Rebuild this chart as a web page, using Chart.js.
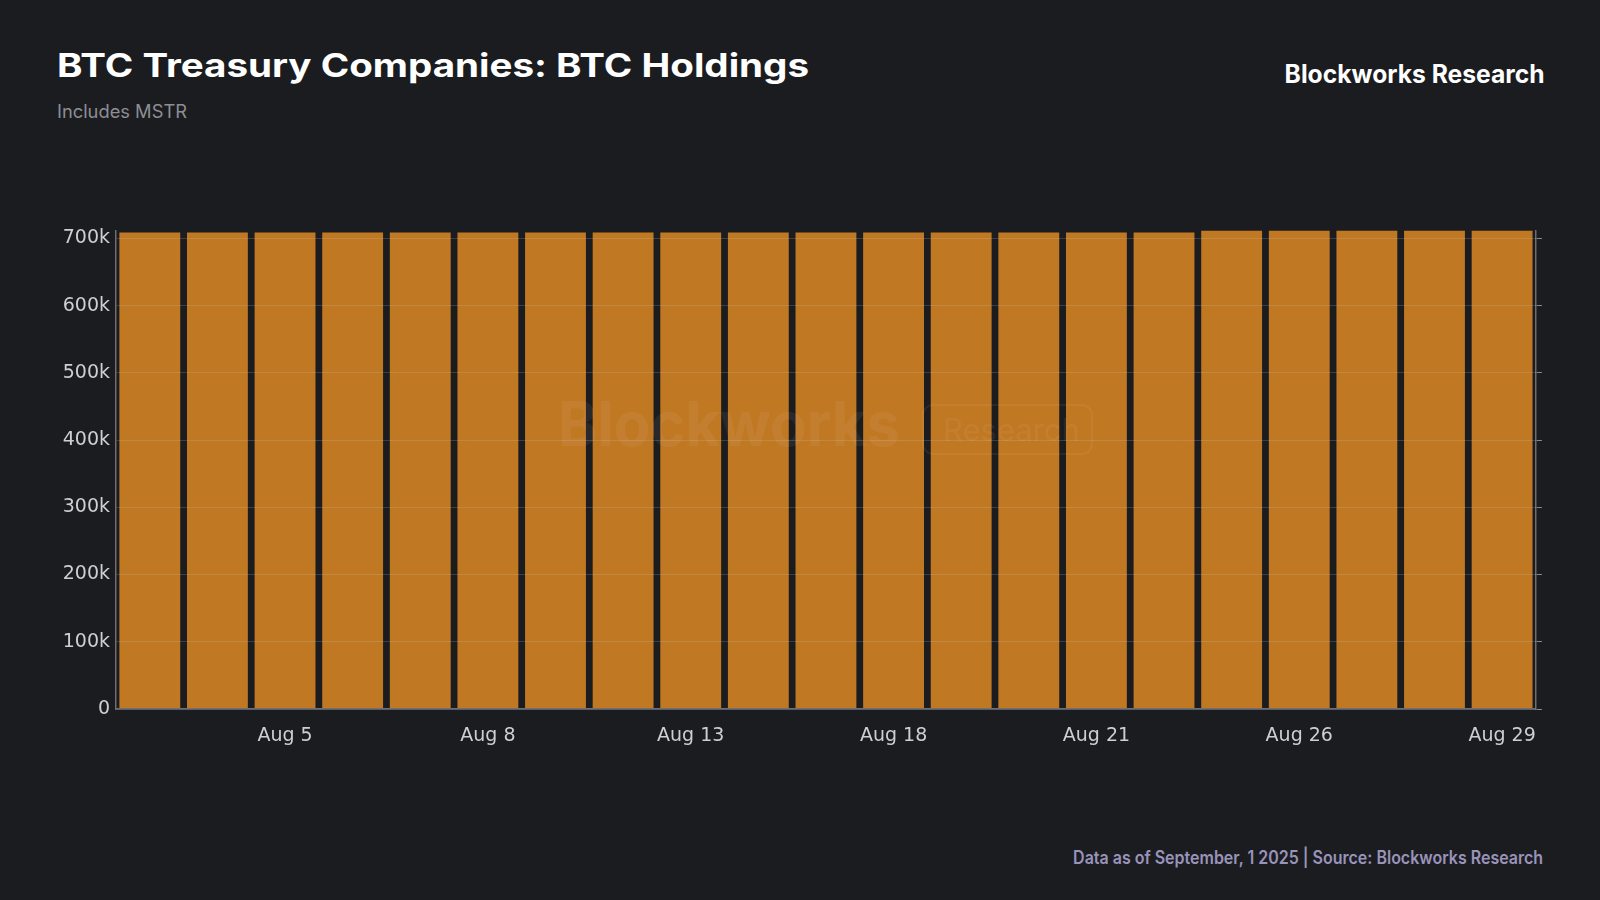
<!DOCTYPE html>
<html>
<head>
<meta charset="utf-8">
<script src="https://cdn.jsdelivr.net/npm/chart.js@4.4.1/dist/chart.umd.min.js"></script>
<style>
    html, body {
        margin: 0;
        padding: 0;
        width: 1600px;
        height: 900px;
        background: #1b1c20;
        overflow: hidden;
        font-family: Inter, 'Noto Sans', sans-serif;
    }
    .txt {
        position: absolute;
        white-space: nowrap;
        line-height: 1;
    }
    #title { left: 57px; top: 50px; font-size: 32px; font-weight: 700; color: #ffffff; transform-origin: left top; }
    #subtitle { left: 57px; top: 103px; font-size: 18px; font-weight: 400; color: #8e8e93; transform-origin: left top; }
    #brand { right: 55px; top: 62px; font-size: 25px; font-weight: 700; color: #ffffff; transform-origin: right top; }
    #footer { right: 57px; top: 849px; font-size: 18px; font-weight: 600; color: #9a93b9; transform-origin: right top; }
    #chart-wrap {
        position: absolute;
        left: 49px;
        top: 213px;
        width: 1503px;
        height: 546px;
    }
</style>
</head>
<body>
<div id="title" class="txt" data-w="752">BTC Treasury Companies: BTC Holdings</div>
<div id="subtitle" class="txt" data-w="130">Includes MSTR</div>
<div id="brand" class="txt" data-w="260">Blockworks Research</div>
<div id="footer" class="txt" data-w="470">Data as of September, 1 2025 | Source: Blockworks Research</div>
<div id="chart-wrap"><canvas id="holdings-chart"></canvas></div>

<script>
// Trading days of August 2025
const dates = [
    'Aug 1', 'Aug 4', 'Aug 5', 'Aug 6', 'Aug 7', 'Aug 8', 'Aug 11',
    'Aug 12', 'Aug 13', 'Aug 14', 'Aug 15', 'Aug 18', 'Aug 19', 'Aug 20',
    'Aug 21', 'Aug 22', 'Aug 25', 'Aug 26', 'Aug 27', 'Aug 28', 'Aug 29'
];

// BTC held
const btcHoldings = [
    709000, 709000, 709000, 709000, 709000, 709000, 709000,
    709000, 709000, 709000, 709000, 709000, 709000, 709000,
    709000, 709000, 712000, 712000, 712000, 712000, 712000
];

// Dates that get an axis label
const shownTicks = ['Aug 5', 'Aug 8', 'Aug 13', 'Aug 18', 'Aug 21', 'Aug 26', 'Aug 29'];

// y axis ticks
const yTicks = [0, 100000, 200000, 300000, 400000, 500000, 600000, 700000];
const yMax = 712000;

// stretch the header/footer texts to the widths seen in the picture
document.querySelectorAll('.txt').forEach(el => {
    const target = Number(el.dataset.w);
    const w = el.getBoundingClientRect().width;
    el.style.transform = `scaleX(${target / w})`;
});

const tickFont = { family: "'DejaVu Sans'", size: 19 };
const tickColor = '#cfcfd1';
const axisColor = '#6d6d72';

const watermark = {
    id: 'watermark',
    afterDraw(chart) {
        const c = chart.ctx;
        c.save();
        c.fillStyle = 'rgba(255, 255, 255, 0.06)';
        c.strokeStyle = 'rgba(255, 255, 255, 0.06)';
        c.lineWidth = 2;
        c.textBaseline = 'alphabetic';
        // canvas offset: wrap starts at (49, 213)
        c.font = "700 62px Inter";
        const w = c.measureText('Blockworks').width;
        c.save();
        c.translate(509, 233);
        c.scale(342 / w, 1);
        c.fillText('Blockworks', 0, 0);
        c.restore();
        c.beginPath();
        c.roundRect(874, 192, 169, 49, 10);
        c.stroke();
        c.font = "400 31px Inter";
        c.fillText('Research', 894, 228);
        c.restore();
    }
};

const fixedTicks = (scale) => {
    scale.ticks = yTicks.map(v => ({ value: v }));
};

new Chart(document.getElementById('holdings-chart').getContext('2d'), {
    type: 'bar',
    data: {
        labels: dates,
        datasets: [{
            label: 'BTC Holdings',
            data: btcHoldings,
            backgroundColor: '#c07823',
            borderWidth: 0,
            barPercentage: 0.9,
            categoryPercentage: 1.0
        }]
    },
    options: {
        responsive: true,
        maintainAspectRatio: false,
        animation: false,
        layout: {
            padding: 0
        },
        plugins: {
            legend: { display: false },
            tooltip: { enabled: false }
        },
        scales: {
            x: {
                grid: { display: false, drawTicks: false },
                border: { color: axisColor, width: 1.5, z: 1 },
                ticks: {
                    color: tickColor,
                    font: tickFont,
                    autoSkip: false,
                    maxRotation: 0,
                    padding: 16,
                    callback: (value, i) => shownTicks.includes(dates[i]) ? dates[i] : ''
                },
                afterFit: (s) => { s.height = 50; }
            },
            y: {
                min: 0,
                max: yMax,
                grid: { color: 'rgba(200, 200, 200, 0.2)', z: 1, drawTicks: false },
                border: { color: axisColor, width: 1.5, z: 1 },
                ticks: {
                    color: tickColor,
                    font: tickFont,
                    padding: 6,
                    callback: (value) => value === 0 ? '0' : `${value / 1000}k`
                },
                afterBuildTicks: fixedTicks,
                afterFit: (s) => { s.width = 67; }
            },
            y1: {
                position: 'right',
                min: 0,
                max: yMax,
                grid: { drawOnChartArea: false, color: '#8a8a8e', tickLength: 6 },
                border: { color: axisColor, width: 1.5 },
                ticks: {
                    callback: () => ''
                },
                afterBuildTicks: fixedTicks,
                afterFit: (s) => { s.width = 10; }
            }
        }
    },
    plugins: [watermark]
});
</script>
</body>
</html>
